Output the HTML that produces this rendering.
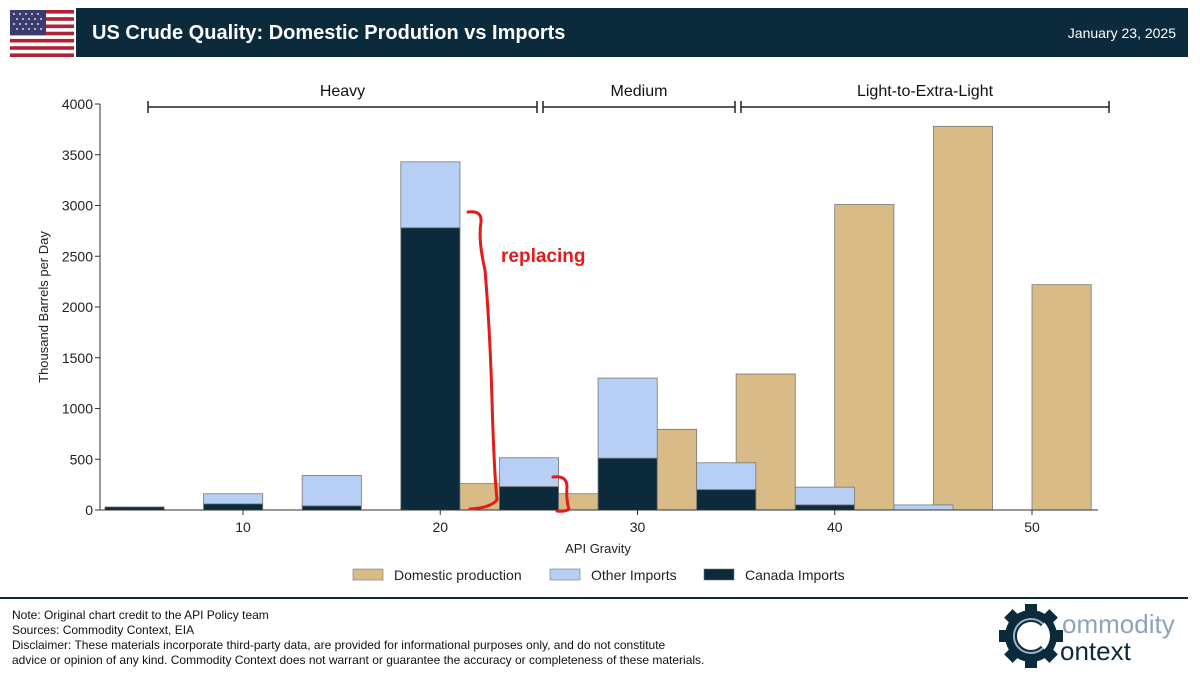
<!DOCTYPE html>
<html><head><meta charset="utf-8">
<style>
body{margin:0;width:1200px;height:681px;background:#fff;font-family:"Liberation Sans",sans-serif;position:relative;overflow:hidden}
.hdr{position:absolute;left:76px;top:8px;width:1112px;height:49px;background:#0b2a3c;color:#fff}
.title{position:absolute;left:16px;top:14px;font-size:20px;font-weight:bold}
.date{position:absolute;right:12px;top:17px;font-size:14px}
.foot{position:absolute;left:12px;top:608px;font-size:12px;line-height:15px;color:#111}
</style></head><body>
<svg style="position:absolute;left:10px;top:10px" width="64" height="47" viewBox="0 0 64 47">
<rect width="64" height="47" fill="#fff"/>
<g fill="#b22234"><rect y="0" width="64" height="3.6"/><rect y="7.2" width="64" height="3.6"/><rect y="14.5" width="64" height="3.6"/><rect y="21.7" width="64" height="3.6"/><rect y="28.9" width="64" height="3.6"/><rect y="36.2" width="64" height="3.6"/><rect y="43.4" width="64" height="3.6"/></g>
<rect width="36" height="25.3" fill="#3c3b6e"/>
<g fill="#fff" opacity="0.8"><circle cx="4" cy="4" r="1"/><circle cx="10" cy="4" r="1"/><circle cx="16" cy="4" r="1"/><circle cx="22" cy="4" r="1"/><circle cx="28" cy="4" r="1"/><circle cx="7" cy="9" r="1"/><circle cx="13" cy="9" r="1"/><circle cx="19" cy="9" r="1"/><circle cx="25" cy="9" r="1"/><circle cx="31" cy="9" r="1"/><circle cx="4" cy="14" r="1"/><circle cx="10" cy="14" r="1"/><circle cx="16" cy="14" r="1"/><circle cx="22" cy="14" r="1"/><circle cx="28" cy="14" r="1"/><circle cx="7" cy="19" r="1"/><circle cx="13" cy="19" r="1"/><circle cx="19" cy="19" r="1"/><circle cx="25" cy="19" r="1"/><circle cx="31" cy="19" r="1"/></g>
</svg>
<div class="hdr">
<div class="title">US Crude Quality: Domestic Prodution vs Imports</div>
<div class="date">January 23, 2025</div>
</div>
<svg id="chart" style="position:absolute;left:0;top:0" width="1200" height="681"></svg>
<div style="position:absolute;left:0;top:597px;width:1188px;height:2px;background:#0b2a3c"></div>
<div class="foot">Note: Original chart credit to the API Policy team<br>Sources: Commodity Context, EIA<br>Disclaimer: These materials incorporate third-party data, are provided for informational purposes only, and do not constitute<br>advice or opinion of any kind. Commodity Context does not warrant or guarantee the accuracy or completeness of these materials.</div>
<svg style="position:absolute;left:998px;top:602px" width="190" height="68">
<circle cx="33" cy="34" r="26" fill="#0b2a3c"/>
<g fill="#0b2a3c"><rect x="27" y="2" width="12" height="64"/><rect x="1" y="28" width="64" height="12"/><rect x="27" y="2" width="12" height="64" transform="rotate(45 33 34)"/><rect x="27" y="2" width="12" height="64" transform="rotate(-45 33 34)"/></g>
<circle cx="33" cy="34" r="19" fill="#fff"/>
<path d="M45 22 A17 17 0 1 0 45 46" stroke="#0b2a3c" stroke-width="6" fill="none"/>
<path d="M45 22 A17 17 0 1 0 45 46" stroke="#9fb1c9" stroke-width="2" fill="none"/>
<text x="64" y="31" font-size="26" fill="#8fa3bf" font-family="Liberation Sans">ommodity</text>
<text x="62" y="58" font-size="26" fill="#0b2a3c" font-family="Liberation Sans">ontext</text>
</svg>
<script>
const importCenters=[4.5,9.5,14.5,19.5,24.5,29.5,34.5,39.5,44.5];
const canadaImports=[30,60,40,2780,230,510,200,50,0];
const otherImports=[0,100,300,650,285,790,265,175,50];
const domesticCenters=[21.5,26.5,31.5,36.5,41.5,46.5,51.5];
const domesticProduction=[260,160,795,1340,3010,3780,2220];
const xTicks=[10,20,30,40,50];
const yTicks=[0,500,1000,1500,2000,2500,3000,3500,4000];
const NS="http://www.w3.org/2000/svg";
const svg=document.getElementById('chart');
const x=v=>243+(v-10)*19.725;
const y=v=>510-v*406/4000;
const bw=3*19.725;
function mk(t,a,txt){const e=document.createElementNS(NS,t);for(const k in a)e.setAttribute(k,a[k]);if(txt!==undefined)e.textContent=txt;svg.appendChild(e);return e;}
function bar(c,v0,v1,fill,name){const e=mk('rect',{x:x(c)-bw/2,y:y(v1),width:bw,height:Math.max(0,y(v0)-y(v1)),fill:fill,stroke:'#777','stroke-width':0.8});

}
domesticCenters.forEach((c,i)=>bar(c,0,domesticProduction[i],'#d9bb88','domestic-bar'));
importCenters.forEach((c,i)=>{const t=canadaImports[i]+otherImports[i];if(otherImports[i]>0)bar(c,canadaImports[i],t,'#b7cff5','other-imports-bar');if(canadaImports[i]>0)bar(c,0,canadaImports[i],'#0b2a3c','canada-imports-bar');});
let ax=mk('line',{x1:100,y1:510,x2:1098,y2:510,stroke:'#333','stroke-width':1});


let ay=mk('line',{x1:100,y1:104,x2:100,y2:510,stroke:'#333','stroke-width':1});


xTicks.forEach(t=>{mk('line',{x1:x(t),y1:510,x2:x(t),y2:515,stroke:'#333'});const e=mk('text',{x:x(t),y:532,'text-anchor':'middle','font-size':14,fill:'#222'},t);

});
yTicks.forEach(t=>{mk('line',{x1:95,y1:y(t),x2:100,y2:y(t),stroke:'#333'});const e=mk('text',{x:93,y:y(t)+5,'text-anchor':'end','font-size':14,fill:'#222'},t);

});
let xt=mk('text',{x:598,y:553,'text-anchor':'middle','font-size':13,fill:'#222'},'API Gravity');


let yt=mk('text',{x:0,y:0,'text-anchor':'middle','font-size':13,fill:'#222',transform:'translate(48,307) rotate(-90)'},'Thousand Barrels per Day');


[[148,537,'Heavy'],[543,735,'Medium'],[741,1109,'Light-to-Extra-Light']].forEach(b=>{
mk('path',{d:`M${b[0]} 101V113M${b[0]} 107H${b[1]}M${b[1]} 101V113`,stroke:'#222','stroke-width':1.5,fill:'none'});
const e=mk('text',{x:(b[0]+b[1])/2,y:96,'text-anchor':'middle','font-size':16,fill:'#111'},b[2]);

});
mk('path',{d:'M468 212 Q482 210 481 222 Q478 240 485 270 Q490 330 492 400 Q494 470 497 500 Q490 508 470 509',stroke:'#e31b1b','stroke-width':3,fill:'none','stroke-linecap':'round'});
mk('path',{d:'M553 477 Q567 475 567 487 Q566 500 569 509 Q565 512 557 511',stroke:'#e31b1b','stroke-width':3,fill:'none','stroke-linecap':'round'});
let an=mk('text',{x:501,y:262,'font-size':19,'font-weight':'bold',fill:'#e31b1b'},'replacing');


[[353,'#d9bb88','Domestic production'],[550,'#b7cff5','Other Imports'],[704,'#0b2a3c','Canada Imports']].forEach(l=>{
mk('rect',{x:l[0],y:569,width:30,height:11,fill:l[1],stroke:'#777','stroke-width':0.6});
const e=mk('text',{x:l[0]+41,y:580,'font-size':14,fill:'#222'},l[2]);

});
</script>
</body></html>
